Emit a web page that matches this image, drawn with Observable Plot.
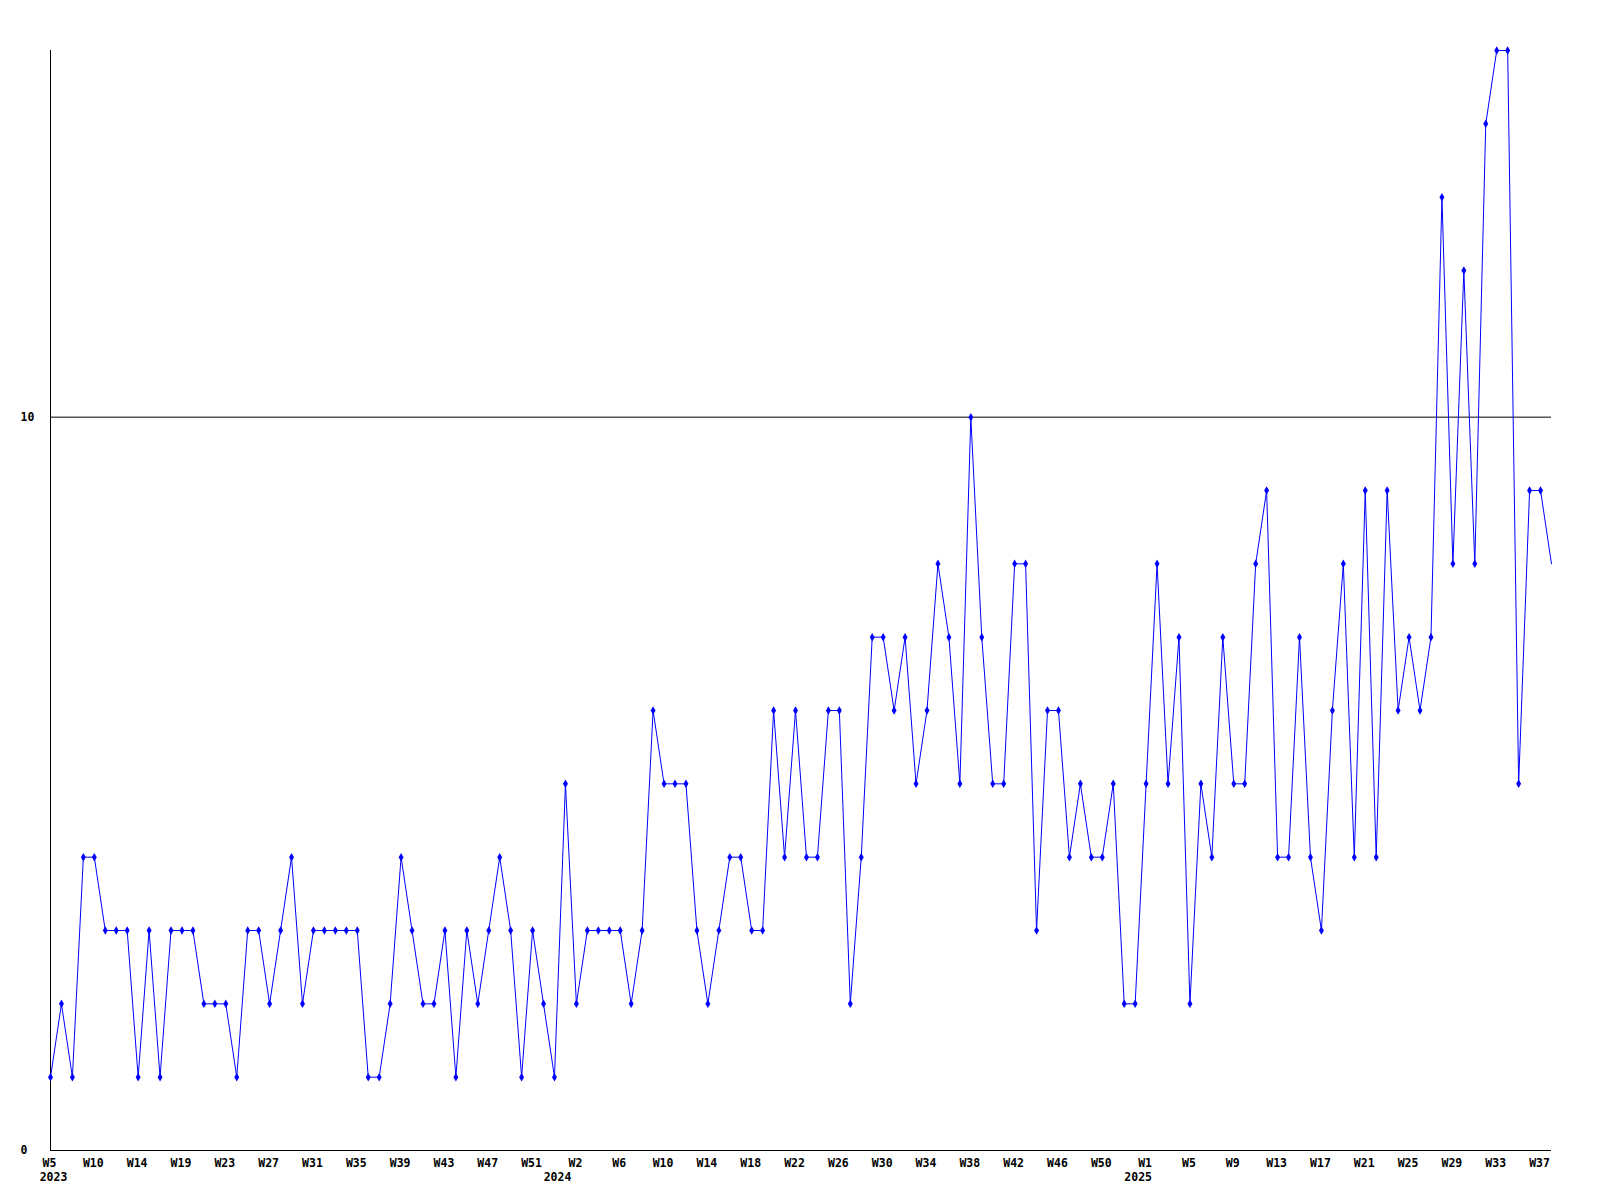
<!DOCTYPE html>
<html>
<head>
<meta charset="utf-8">
<script src="https://cdn.jsdelivr.net/npm/d3@7"></script>
<script src="https://cdn.jsdelivr.net/npm/@observablehq/plot@0.6"></script>
<style>
  html, body { margin: 0; padding: 0; background: #fff; }
  #chart svg { display: block; }
</style>
</head>
<body>
<div id="chart"></div>
<script>
// Weekly values, 2023 W5 through 2025 W38 (138 weeks)
const values = [
  1,2,1,4,4,3,3,3,1,3,1,3,3,3,2,2,2,1,3,3,2,3,4,2,3,3,3,3,3,1,1,2,4,3,
  2,2,3,1,3,2,3,4,3,1,3,2,1,5,2,3,3,3,3,2,3,6,5,5,5,3,2,3,4,4,3,3,6,4,
  6,4,4,6,6,2,4,7,7,6,7,5,6,8,7,5,10,7,5,5,8,8,3,6,6,4,5,4,4,5,2,2,5,8,
  5,7,2,5,4,7,5,5,8,9,4,4,7,4,3,6,8,4,9,4,9,6,7,6,7,13,8,12,8,14,15,15,5,9,9,8
];

// Week tick labels, one every 4th point
const weekLabels = [
  "W5","W10","W14","W19","W23","W27","W31","W35","W39","W43","W47","W51",
  "W2","W6","W10","W14","W18","W22","W26","W30","W34","W38","W42","W46","W50",
  "W1","W5","W9","W13","W17","W21","W25","W29","W33","W37"
];
const tickIndex = weekLabels.map((_, i) => i * 4);

// Year labels and the point index under which each sits
const yearLabels = ["2023", "2024", "2025"];
const yearIndex = [0, 46, 99];

const yTicks = [0, 10];

const data = values.map((v, i) => ({i, v}));
const years = yearLabels.map((y, k) => ({label: y, i: yearIndex[k]}));

const font = "'DejaVu Sans Mono', monospace";

const chart = Plot.plot({
  width: 1600,
  height: 1200,
  marginLeft: 50,
  marginRight: 49,
  marginTop: 50,
  marginBottom: 50,
  style: {fontFamily: font, fontSize: "11.5px", fontWeight: "bold", color: "#000", background: "#fff"},
  x: {type: "linear", domain: [0, values.length - 1], axis: null},
  y: {type: "linear", domain: [0, 15], axis: null},
  marks: [
    Plot.ruleY([10], {stroke: "#000", strokeWidth: 1}),
    Plot.ruleY([0], {stroke: "#000", strokeWidth: 1}),
    Plot.ruleX([0], {stroke: "#000", strokeWidth: 1}),
    Plot.axisX({
      ticks: tickIndex,
      tickFormat: (d) => weekLabels[tickIndex.indexOf(d)],
      tickSize: 0,
      tickPadding: 8,
      dx: -1,
      fill: "#000",
      fontWeight: "bold",
      label: null
    }),
    Plot.text(years, {
      x: "i",
      text: "label",
      frameAnchor: "bottom",
      dy: 30,
      dx: 3,
      fill: "#000",
      fontWeight: "bold"
    }),
    Plot.axisY({
      ticks: yTicks,
      tickSize: 0,
      tickPadding: 30,
      textAnchor: "start",
      fill: "#000",
      fontWeight: "bold",
      label: null
    }),
    Plot.line(data, {x: "i", y: "v", stroke: "#0000ff", strokeWidth: 1}),
    // the reference shows no marker on the final point at the right edge
    Plot.dot(data.slice(0, -1), {x: "i", y: "v", symbol: "diamond", r: 2.6, fill: "#0000ff", stroke: "none"})
  ]
});

document.getElementById("chart").append(chart);
</script>
</body>
</html>
